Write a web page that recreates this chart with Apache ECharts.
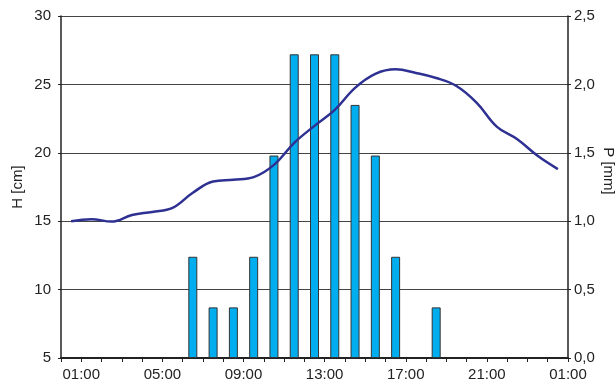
<!DOCTYPE html>
<html>
<head>
<meta charset="utf-8">
<script src="https://cdn.jsdelivr.net/npm/echarts@6/dist/echarts.min.js"></script>
<style>
html,body{margin:0;padding:0;background:#fff;}
#chart{width:616px;height:388px;}
</style>
</head>
<body>
<div id="chart"></div>
<script>
// Water level H [cm] sampled at half hours (hours from 00:00)
var levelHours = [0.5,1.5,2.5,3.5,4.5,5.5,6.5,7.5,8.5,9.5,10.5,11.5,12.5,13.5,14.5,15.5,16.5,17.5,18.5,19.5,20.5,21.5,22.5,23.5,24.5];
var levelH = [15.0,15.15,14.97,15.45,15.68,15.97,17.08,17.9,18.03,18.22,19.12,20.73,21.97,23.14,24.75,25.77,26.1,25.84,25.47,24.88,23.65,21.9,20.99,19.78,18.81];
// Precipitation P [mm] per hour (bar centred in the hour)
var rainHours = [6.5,7.5,8.5,9.5,10.5,11.5,12.5,13.5,14.5,15.5,16.5,18.5];
var rainP = [0.74,0.37,0.37,0.74,1.48,2.22,2.22,2.22,1.85,1.48,0.74,0.37];
// x tick labels (hour value -> label)
var tickHours = [1,5,9,13,17,21,25];
var tickLabels = ['01:00','05:00','09:00','13:00','17:00','21:00','01:00'];

var lineData = levelHours.map(function(h,i){return [h, levelH[i]];});
var barData = rainHours.map(function(h,i){return [h, rainP[i]];});

var chart = echarts.init(document.getElementById('chart'));
var font = 'Liberation Sans, Arial, Helvetica, sans-serif';
chart.setOption({
  backgroundColor:'#fff',
  animation:false,
  grid:{left:61,right:48,top:16,bottom:30,containLabel:false,outerBoundsMode:'none'},
  xAxis:{
    type:'value',min:0,max:25,interval:1,
    axisLine:{show:true,lineStyle:{color:'#222',width:2}},
    axisTick:{show:true,length:4,inside:false,lineStyle:{color:'#222',width:1}},
    axisLabel:{show:true,margin:9,color:'#222',fontSize:15,fontFamily:font,
      formatter:function(v){var k=tickHours.indexOf(v);return k>=0?tickLabels[k]:'';}},
    splitLine:{show:false}
  },
  yAxis:[{
    type:'value',min:5,max:30,interval:5,position:'left',
    name:'H [cm]',nameLocation:'middle',nameGap:36,nameMoveOverlap:false,
    nameTextStyle:{color:'#222',fontSize:15,fontFamily:font},
    axisLine:{show:true,lineStyle:{color:'#222',width:1.5}},
    axisTick:{show:true,length:3,lineStyle:{color:'#222'}},
    axisLabel:{margin:10,color:'#222',fontSize:15,fontFamily:font},
    splitLine:{show:true,lineStyle:{color:'#444',width:1}}
  },{
    type:'value',min:0,max:2.5,interval:0.5,position:'right',
    name:'P [mm]',nameLocation:'middle',nameGap:33,nameRotate:-90,nameMoveOverlap:false,
    nameTextStyle:{color:'#222',fontSize:15,fontFamily:font,padding:[0,32,0,0]},
    axisLine:{show:true,lineStyle:{color:'#222',width:1.5}},
    axisTick:{show:true,length:3,lineStyle:{color:'#222'}},
    axisLabel:{margin:6,color:'#222',fontSize:15,fontFamily:font,
      formatter:function(v){return v.toFixed(1).replace('.',',');}},
    splitLine:{show:false}
  }],
  series:[{
    type:'bar',yAxisIndex:1,data:barData,barWidth:9,
    itemStyle:{color:'#00AEEF',borderColor:'#333',borderWidth:1},
    z:2
  },{
    type:'line',yAxisIndex:0,data:lineData,smooth:0.4,symbol:'none',
    lineStyle:{color:'#2E3192',width:2.5},
    z:3
  }]
});
</script>
</body>
</html>
